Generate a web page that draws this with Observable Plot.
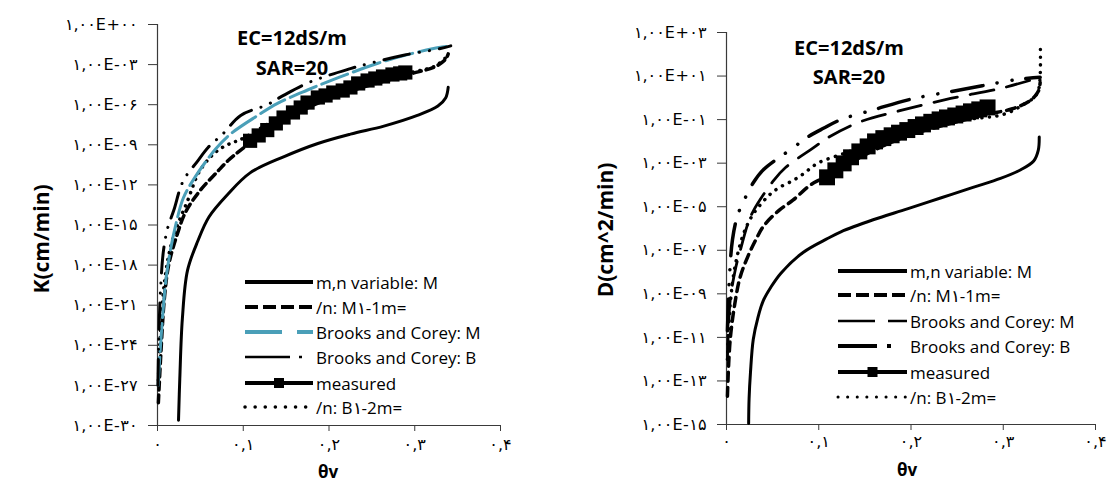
<!DOCTYPE html>
<html><head><meta charset="utf-8">
<script src="https://cdn.jsdelivr.net/npm/d3@7"></script>
<script src="https://cdn.jsdelivr.net/npm/@observablehq/plot@0.6"></script>
<style>
body{margin:0;background:#fff;}
#wrap{position:relative;width:1107px;height:483px;overflow:hidden;background:#fff;}
#left{position:absolute;left:0;top:0;}
#right{position:absolute;left:550px;top:0;}
#overlay{position:absolute;left:0;top:0;pointer-events:none;}
svg{overflow:visible;}
</style></head><body>
<div id="wrap"><div id="left"></div><div id="right"></div><svg id="overlay" width="1107" height="483"></svg></div>
<script>
// ---------- tick labels ----------
const xTicks = [0, 0.1, 0.2, 0.3, 0.4];
const xTickLabels = ["۰", "۰,۱", "۰,۲", "۰,۳", "۰,۴"];
const kTickExps = [0, -3, -6, -9, -12, -15, -18, -21, -24, -27, -30];
const kTickLabels = ["۱,۰۰E+۰۰", "۱,۰۰E-۰۳", "۱,۰۰E-۰۶", "۱,۰۰E-۰۹", "۱,۰۰E-۱۲", "۱,۰۰E-۱۵", "۱,۰۰E-۱۸", "۱,۰۰E-۲۱", "۱,۰۰E-۲۴", "۱,۰۰E-۲۷", "۱,۰۰E-۳۰"];
const dTickExps = [3, 1, -1, -3, -5, -7, -9, -11, -13, -15];
const dTickLabels = ["۱,۰۰E+۰۳", "۱,۰۰E+۰۱", "۱,۰۰E-۰۱", "۱,۰۰E-۰۳", "۱,۰۰E-۰۵", "۱,۰۰E-۰۷", "۱,۰۰E-۰۹", "۱,۰۰E-۱۱", "۱,۰۰E-۱۳", "۱,۰۰E-۱۵"];
const seriesNames = ["m,n variable: M", "/n: M۱-1m=", "Brooks and Corey: M", "Brooks and Corey: B", "measured", "/n: B۱-2m="];
const kTitle = "K(cm/min)";
const dTitle = "D(cm^2/min)";
const xTitle = "θv";
const note1 = "EC=12dS/m";
const note2 = "SAR=20";

// ---------- left panel: K, values as log10 exponents ----------
const kSolidT = [0.0245, 0.026, 0.029, 0.035, 0.047, 0.060, 0.082, 0.108, 0.147, 0.187, 0.225, 0.264, 0.303, 0.327, 0.336, 0.339];
const kSolidE = [-29.6, -26.5, -22.0, -18.4, -16.2, -14.4, -12.7, -11.1, -9.9, -8.9, -8.2, -7.6, -6.8, -6.1, -5.5, -4.7];
const kDashT = [0.001, 0.004, 0.008, 0.013, 0.023, 0.033, 0.050, 0.070, 0.082, 0.097, 0.130, 0.170, 0.210, 0.250, 0.295, 0.324, 0.336, 0.339];
const kDashE = [-28.3, -24.5, -20.5, -18.0, -15.7, -14.0, -12.4, -11.0, -10.2, -9.4, -7.9, -6.4, -5.3, -4.5, -3.7, -3.15, -2.6, -2.2];
const kBcmT = [0.0008, 0.003, 0.006, 0.010, 0.015, 0.022, 0.030, 0.044, 0.068, 0.085, 0.117, 0.140, 0.175, 0.210, 0.257, 0.295, 0.322, 0.342];
const kBcmE = [-27.0, -24.5, -21.8, -19.0, -16.9, -14.8, -13.0, -11.4, -9.3, -8.2, -6.8, -5.9, -4.9, -4.0, -2.9, -2.2, -1.8, -1.6];
const kBcbT = [0.0005, 0.0015, 0.0035, 0.007, 0.012, 0.019, 0.030, 0.047, 0.059, 0.076, 0.097, 0.128, 0.147, 0.178, 0.225, 0.248, 0.287, 0.330, 0.342];
const kBcbE = [-27.0, -23.5, -19.9, -16.9, -15.2, -13.9, -11.7, -10.2, -9.2, -8.2, -6.8, -6.0, -5.3, -4.3, -3.3, -2.9, -2.3, -1.8, -1.6];
const kDotT = [0.001, 0.0035, 0.007, 0.013, 0.021, 0.035, 0.048, 0.062, 0.073, 0.085, 0.097, 0.130, 0.170, 0.210, 0.250, 0.295, 0.324, 0.339];
const kDotE = [-26.6, -22.9, -19.9, -17.3, -15.4, -13.2, -11.1, -9.9, -9.3, -8.9, -8.6, -7.4, -6.0, -5.0, -4.3, -3.6, -3.1, -2.3];
const kMeasT = [0.108, 0.118, 0.128, 0.138, 0.147, 0.158, 0.167, 0.175, 0.187, 0.196, 0.205, 0.216, 0.225, 0.234, 0.245, 0.254, 0.263, 0.274, 0.283, 0.289];
const kMeasE = [-8.7, -8.3, -7.9, -7.4, -6.96, -6.58, -6.21, -5.84, -5.46, -5.31, -5.09, -4.94, -4.71, -4.41, -4.19, -4.04, -3.89, -3.74, -3.66, -3.59];

// ---------- right panel: D ----------
const dSolidT = [0.024, 0.0245, 0.026, 0.029, 0.034, 0.040, 0.048, 0.059, 0.083, 0.110, 0.124, 0.159, 0.196, 0.232, 0.268, 0.297, 0.319, 0.333, 0.338, 0.339];
const dSolidE = [-14.95, -13.8, -12.6, -11.1, -10.1, -9.3, -8.7, -8.05, -7.1, -6.45, -6.15, -5.6, -5.1, -4.6, -4.1, -3.7, -3.3, -2.9, -2.4, -1.8];
const dDashT = [0.001, 0.004, 0.010, 0.015, 0.023, 0.032, 0.040, 0.056, 0.072, 0.091, 0.104, 0.130, 0.160, 0.200, 0.250, 0.283, 0.310, 0.330, 0.338, 0.340];
const dDashE = [-13.7, -11.1, -9.2, -8.2, -7.3, -6.5, -5.9, -5.2, -4.7, -4.0, -3.7, -3.1, -2.4, -1.7, -1.1, -0.75, -0.5, -0.1, 0.3, 0.7];
const dBcmT = [0.001, 0.004, 0.010, 0.015, 0.023, 0.029, 0.051, 0.064, 0.094, 0.111, 0.145, 0.189, 0.243, 0.297, 0.340];
const dBcmE = [-12.0, -9.3, -7.8, -7.0, -5.8, -5.2, -3.8, -3.2, -2.3, -1.8, -1.1, -0.58, -0.03, 0.43, 0.94];
const dBcbT = [0.001, 0.003, 0.0065, 0.012, 0.018, 0.029, 0.040, 0.072, 0.088, 0.105, 0.124, 0.161, 0.199, 0.257, 0.315, 0.340];
const dBcbE = [-10.7, -8.4, -6.5, -5.4, -4.8, -3.9, -3.3, -2.3, -1.8, -1.4, -1.0, -0.53, -0.07, 0.39, 0.84, 0.94];
const dDotT = [0.001, 0.004, 0.009, 0.018, 0.028, 0.039, 0.048, 0.058, 0.072, 0.083, 0.099, 0.131, 0.160, 0.200, 0.250, 0.280, 0.297, 0.311, 0.320, 0.333, 0.338, 0.340, 0.3402];
const dDotE = [-12.0, -9.5, -7.8, -6.3, -5.4, -4.8, -4.4, -4.1, -3.8, -3.5, -3.0, -2.5, -2.0, -1.5, -1.05, -0.9, -0.8, -0.58, -0.35, 0.0, 0.34, 1.0, 2.5];
const dMeasT = [0.109, 0.118, 0.127, 0.135, 0.144, 0.153, 0.161, 0.170, 0.179, 0.187, 0.196, 0.205, 0.213, 0.222, 0.231, 0.239, 0.248, 0.257, 0.265, 0.274, 0.283];
const dMeasE = [-3.65, -3.33, -3.01, -2.73, -2.46, -2.23, -2.0, -1.85, -1.72, -1.6, -1.48, -1.34, -1.22, -1.1, -0.99, -0.9, -0.81, -0.72, -0.62, -0.53, -0.44];

// ---------- helpers ----------
const rows = (T, E) => T.map((t, i) => ({t, v: Math.pow(10, E[i])}));
const BLUE = "#4a9fb8";
const axisColor = "#3a3a3a";

function panel(o) {
  const yTicks = o.exps.map(e => Math.pow(10, e));
  const yMap = new Map(yTicks.map((v, i) => [v, o.labels[i]]));
  const xMap = new Map(xTicks.map((v, i) => [v, xTickLabels[i]]));
  const S = o.styles;
  return Plot.plot({
    width: o.width, height: 483,
    marginLeft: o.ml, marginRight: o.mr, marginTop: o.mt, marginBottom: o.mb,
    style: {fontFamily: "DejaVu Sans", fontSize: "16px", letterSpacing: "0.5px", color: "#000", background: "transparent", overflow: "visible"},
    x: {domain: [0, 0.4], label: null},
    y: {type: "log", domain: [Math.pow(10, o.exps[o.exps.length - 1]), Math.pow(10, o.exps[0])], label: null},
    marks: [
      Plot.axisY({ticks: yTicks, tickFormat: d => yMap.get(d), tickSize: 9, tickPadding: 11, stroke: axisColor, label: null}),
      Plot.axisX({ticks: xTicks, tickFormat: d => xMap.get(d), tickSize: 6, tickPadding: o.xpad, stroke: axisColor, label: null}),
      Plot.ruleX([0], {stroke: axisColor, strokeWidth: 1.2}),
      Plot.ruleY([Math.pow(10, o.exps[o.exps.length - 1])], {stroke: axisColor, strokeWidth: 1.2}),
      Plot.line(rows(o.solid[0], o.solid[1]), {x: "t", y: "v", stroke: "#000", strokeWidth: 3, curve: "catmull-rom"}),
      Plot.line(rows(o.dot[0], o.dot[1]), {x: "t", y: "v", stroke: "#000", strokeWidth: 3.5, strokeDasharray: S.dot, strokeLinecap: "round", curve: "catmull-rom"}),
      Plot.line(rows(o.dash[0], o.dash[1]), {x: "t", y: "v", stroke: "#000", strokeWidth: 3.5, strokeDasharray: S.dash, curve: "catmull-rom"}),
      Plot.line(rows(o.bcm[0], o.bcm[1]), {x: "t", y: "v", stroke: S.bcmColor, strokeWidth: S.bcmWidth, strokeDasharray: S.bcm, curve: "catmull-rom"}),
      Plot.line(rows(o.bcb[0], o.bcb[1]), {x: "t", y: "v", stroke: "#000", strokeWidth: S.bcbWidth, strokeDasharray: S.bcb, strokeLinecap: "round", curve: "catmull-rom"}),
      Plot.line(rows(o.meas[0], o.meas[1]), {x: "t", y: "v", stroke: "#000", strokeWidth: 4}),
      Plot.dot(rows(o.meas[0], o.meas[1]), {x: "t", y: "v", symbol: "square", r: S.sq, fill: "#000"})
    ]
  });
}

document.getElementById("left").appendChild(panel({
  width: 550, ml: 157, mr: 50, mt: 24, mb: 58, xpad: 7,
  exps: kTickExps, labels: kTickLabels,
  solid: [kSolidT, kSolidE], dash: [kDashT, kDashE], bcm: [kBcmT, kBcmE],
  bcb: [kBcbT, kBcbE], dot: [kDotT, kDotE], meas: [kMeasT, kMeasE],
  styles: {dot: "0.1,7", dash: "8,5", bcm: "28,6", bcmColor: BLUE, bcmWidth: 3, bcb: "26,10,0.1,10,0.1,10", bcbWidth: 3, sq: 8}
}));
document.getElementById("right").appendChild(panel({
  width: 557, ml: 176, mr: 12, mt: 32, mb: 59, xpad: 5,
  exps: dTickExps, labels: dTickLabels,
  solid: [dSolidT, dSolidE], dash: [dDashT, dDashE], bcm: [dBcmT, dBcmE],
  bcb: [dBcbT, dBcbE], dot: [dDotT, dDotE], meas: [dMeasT, dMeasE],
  styles: {dot: "0.1,7.5", dash: "9,6", bcm: "24,13", bcmColor: "#000", bcmWidth: 2.8, bcb: "32,14,0.1,15,0.1,14", bcbWidth: 3.5, sq: 9}
}));

// ---------- overlay: titles, notes, legends ----------
const ov = d3.select("#overlay");
const TF = "'Open Sans', sans-serif";
function title(x, y, txt, size, rot) {
  const t = ov.append("text").attr("x", x).attr("y", y).text(txt)
    .attr("font-family", TF).attr("font-weight", 700).attr("font-size", size)
    .attr("text-anchor", "middle").attr("fill", "#000");
  if (rot) t.attr("transform", `rotate(-90,${x},${y})`).attr("dominant-baseline", "central");
  return t;
}
title(292, 45, note1, 20); title(292, 75, note2, 20);
title(849, 55, note1, 20); title(849, 83.5, note2, 20);
title(41, 239, kTitle, 21, true);
title(605, 230, dTitle, 21, true);
title(328, 477.5, xTitle, 17);
title(907, 476, xTitle, 17);

function legend(x1, x2, ys, st) {
  ys.forEach((y, i) => {
    const s = st[i];
    ov.append("line").attr("x1", x1).attr("x2", x2).attr("y1", y).attr("y2", y)
      .attr("stroke", s.c || "#000").attr("stroke-width", s.w)
      .attr("stroke-dasharray", s.d || null).attr("stroke-linecap", s.cap || "butt");
    if (s.sq) ov.append("rect").attr("x", (x1 + x2) / 2 - 5).attr("y", y - 5).attr("width", 10).attr("height", 10).attr("fill", "#000");
    ov.append("text").attr("x", x2 + 3).attr("y", y).attr("dominant-baseline", "central")
      .attr("font-family", TF).attr("font-size", 17).attr("fill", "#000").text(seriesNames[i]);
  });
}
legend(245, 313, [282, 307, 332, 357, 383, 407], [
  {w: 4}, {w: 4, d: "13,5"}, {w: 4, d: "37,15,16", c: BLUE}, {w: 2.5, d: "45,9,3,30"}, {w: 4, sq: true}, {w: 3.5, d: "0.1,10", cap: "round"}
]);
legend(838, 907, [271, 295, 321, 346, 372, 397], [
  {w: 4}, {w: 4, d: "13,5"}, {w: 2.5, d: "37,13,19"}, {w: 4, d: "39,10,4,30"}, {w: 4, sq: true}, {w: 3, d: "0.1,9.5", cap: "round"}
]);
</script>
</body></html>
